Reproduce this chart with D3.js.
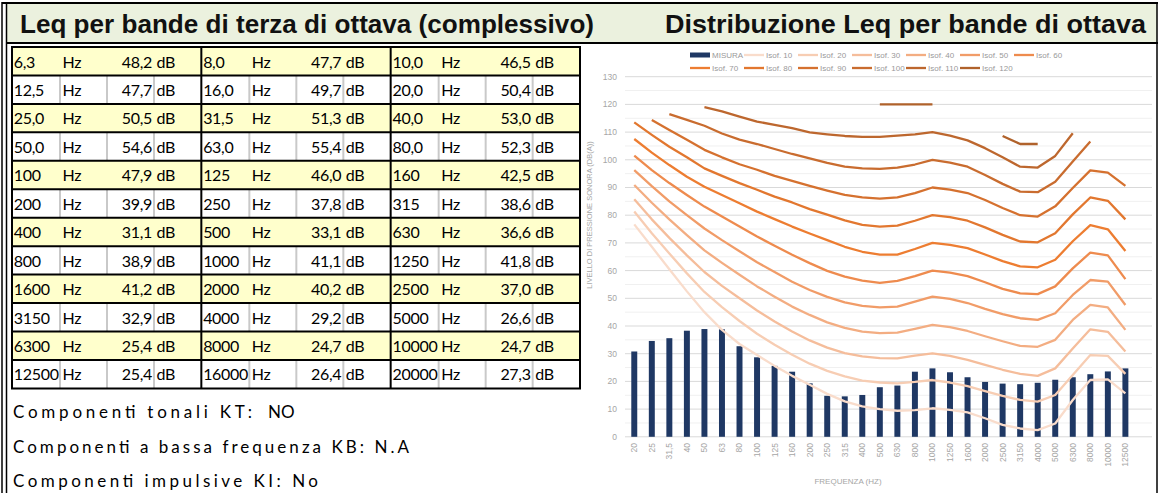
<!DOCTYPE html>
<html>
<head>
<meta charset="utf-8">
<script src="https://cdn.jsdelivr.net/npm/d3@7/dist/d3.min.js"></script>
<style>
  body { margin: 0; background: #fff; }
  svg { display: block; font-family: Arial, "Liberation Sans", sans-serif; }
</style>
</head>
<body>
<svg id="chart" width="1161" height="493"></svg>
<script>
// ---- table data (1/3 octave, overall Leq) ----
const tableFreq = ["6,3","8,0","10,0","12,5","16,0","20,0","25,0","31,5","40,0","50,0","63,0","80,0",
  "100","125","160","200","250","315","400","500","630","800","1000","1250",
  "1600","2000","2500","3150","4000","5000","6300","8000","10000","12500","16000","20000"]
const tableLeq = ["48,2","47,7","46,5","47,7","49,7","50,4","50,5","51,3","53,0","54,6","55,4","52,3",
  "47,9","46,0","42,5","39,9","37,8","38,6","31,1","33,1","36,6","38,9","41,1","41,8",
  "41,2","40,2","37,0","32,9","29,2","26,6","25,4","24,7","24,7","25,4","26,4","27,3"]
const notes = [
  ["Componenti tonali KT:", "NO"],
  ["Componenti a bassa frequenza KB: N.A", ""],
  ["Componenti impulsive KI: No", ""]
]

// ---- chart data ----
const bands = ["20","25","31,5","40","50","63","80","100","125","160","200","250","315","400","500",
  "630","800","1000","1250","1600","2000","2500","3150","4000","5000","6300","8000","10000","12500"]
const misura = [30.8,34.6,35.6,38.3,38.9,38.8,32.7,28.7,25.6,23.5,19.3,14.8,14.6,15.1,17.9,
  18.5,23.5,24.7,23.3,21.5,19.8,19.2,19.0,19.5,20.6,21.5,22.6,23.6,24.7]

const iso10 = [76.7,68.6,60.5,52.5,45.0,38.6,33.5,29.5,25.6,22.0,18.8,15.5,12.8,11.0,10.0,
  9.4,9.6,10.3,9.7,8.8,6.7,4.3,3.0,2.4,4.8,13.3,20.5,20.7,15.7]
const iso20 = [81.3,73.5,66.2,59.0,52.3,46.8,41.8,37.2,33.2,29.6,26.4,23.8,21.8,20.3,19.6,
  19.3,19.8,20.5,19.6,18.3,16.5,14.8,13.3,12.7,15.1,22.3,29.5,29.2,22.7]
const iso30 = [85.8,78.5,71.8,65.5,59.5,54.5,50.0,45.6,41.6,38.0,34.8,32.2,30.2,29.0,28.4,
  28.3,29.3,30.1,29.2,27.8,26.0,24.2,22.7,22.0,24.7,31.9,38.8,37.9,30.8]
const iso40 = [90.9,84.5,78.5,72.8,67.3,62.8,58.5,54.3,50.6,47.0,44.0,41.3,39.3,38.0,37.4,
  37.6,39.0,40.4,39.6,38.2,36.3,34.5,32.8,32.5,35.0,42.2,47.6,46.7,38.6]
const iso50 = [96.3,90.5,85.0,80.0,75.2,71.0,67.0,63.0,59.5,56.0,53.0,50.5,48.5,47.3,46.7,
  47.0,48.8,50.6,49.8,48.3,46.2,44.3,42.8,42.2,44.6,51.2,56.6,56.0,47.6]
const iso60 = [101.5,96.3,91.6,87.3,83.1,79.5,75.9,72.3,69.0,65.7,62.7,59.9,57.8,56.4,55.6,
  56.3,58.0,60.0,59.3,58.0,55.8,53.4,51.8,51.5,54.3,60.8,66.5,65.5,56.9]
const iso70 = [107.5,102.6,98.1,93.9,90.3,87.3,84.3,81.3,78.6,75.9,73.4,71.0,68.6,66.8,65.8,
  65.8,67.8,70.0,69.3,68.1,65.8,63.4,61.5,61.2,63.9,70.6,76.4,74.9,67.1]
const iso80 = [113.5,109.0,104.7,100.9,96.9,94.2,91.6,89.2,86.7,84.6,82.2,80.2,78.1,76.5,75.9,
  76.2,78.0,80.0,79.3,78.0,75.6,72.9,70.5,70.2,73.5,80.3,86.4,85.2,78.5]
const iso90 = [null,114.4,110.8,107.2,103.6,100.9,98.4,96.4,94.2,92.4,90.6,88.9,87.3,86.4,86.0,
  86.4,88.0,90.0,89.2,88.0,85.5,82.6,80.0,79.5,83.2,89.8,96.2,95.4,90.6]
const iso100 = [null,null,116.5,114.4,112.3,109.5,107.3,105.7,103.9,102.1,100.5,98.9,97.5,96.9,96.7,
  97.2,98.3,100.0,99.0,97.5,94.5,91.3,88.5,88.3,92.1,99.4,106.6,null,null]
const iso110 = [null,null,null,null,119.0,117.5,115.6,113.8,112.6,111.4,109.9,109.2,108.6,108.3,108.3,
  108.7,109.2,110.0,108.7,107.0,104.2,100.9,97.5,97.2,101.4,109.6,null,null,null]
const iso120 = [null,null,null,null,null,null,null,null,null,null,null,null,null,null,120.0,
  120.0,120.0,120.0,null,null,null,108.6,105.7,105.7,null,null,null,null,null]

const isoNames = ["Isof. 10","Isof. 20","Isof. 30","Isof. 40","Isof. 50","Isof. 60",
  "Isof. 70","Isof. 80","Isof. 90","Isof. 100","Isof. 110","Isof. 120"]
const isoValues = [iso10, iso20, iso30, iso40, iso50, iso60, iso70, iso80, iso90, iso100, iso110, iso120]
const isoColors = ["#f9dccb","#f7cdb3","#f5bd9b","#f3ad82","#f19c68","#ee8b4e",
  "#ed7d31","#e2772f","#d5712f","#c96c2f","#bd672e","#b0622b"]
const yTicks = d3.range(0, 131, 10)

const svg = d3.select("#chart")
const tableFont = "Lato, sans-serif"

// ---------- frame + header ----------
svg.append("rect").attr("x", 7).attr("y", 4).attr("width", 1150).attr("height", 39).attr("fill", "#ebf1de")
svg.append("line").attr("x1", 2).attr("x2", 1158).attr("y1", 3).attr("y2", 3).attr("stroke", "#000").attr("stroke-width", 2)
svg.append("line").attr("x1", 6).attr("x2", 1158).attr("y1", 43).attr("y2", 43).attr("stroke", "#000").attr("stroke-width", 2)
svg.append("line").attr("x1", 2).attr("x2", 2).attr("y1", 2).attr("y2", 493).attr("stroke", "#000").attr("stroke-width", 1.5)
svg.append("line").attr("x1", 6.5).attr("x2", 6.5).attr("y1", 3).attr("y2", 493).attr("stroke", "#000").attr("stroke-width", 1.5)
svg.append("line").attr("x1", 1157).attr("x2", 1157).attr("y1", 2).attr("y2", 493).attr("stroke", "#000").attr("stroke-width", 1.5)

svg.append("text").attr("x", 20).attr("y", 33)
  .attr("font-size", 25).attr("font-weight", "bold").attr("fill", "#111")
  .attr("textLength", 574).attr("lengthAdjust", "spacingAndGlyphs")
  .text("Leq per bande di terza di ottava (complessivo)")
svg.append("text").attr("x", 665).attr("y", 33)
  .attr("font-size", 25).attr("font-weight", "bold").attr("fill", "#111")
  .attr("textLength", 481).attr("lengthAdjust", "spacingAndGlyphs")
  .text("Distribuzione Leq per bande di ottava")

// ---------- table ----------
const rows = d3.range(12), groups = d3.range(3)
const ty = d3.scaleBand().domain(rows).range([47, 388.4])
const tx = d3.scaleBand().domain(groups).range([12, 580])
const cellOff = [0, 48, 95, 142]   // freq | Hz | value | dB

const tbl = svg.append("g")
tbl.selectAll("rect.row").data(rows).join("rect")
  .attr("x", 12).attr("y", r => ty(r)).attr("width", 568).attr("height", ty.bandwidth())
  .attr("fill", r => r % 2 === 0 ? "#ffffcc" : "#fff")

// light separators inside white rows
rows.filter(r => r % 2 === 1).forEach(r => {
  groups.forEach(g => {
    cellOff.slice(1).forEach(o => {
      tbl.append("line").attr("x1", tx(g) + o).attr("x2", tx(g) + o)
        .attr("y1", ty(r)).attr("y2", ty(r) + ty.bandwidth())
        .attr("stroke", "#c9c9c9").attr("stroke-width", 2)
    })
  })
})
// black row lines and group lines
tbl.selectAll("line.h").data(d3.range(13)).join("line")
  .attr("x1", 11).attr("x2", 581)
  .attr("y1", i => 47 + i * ty.step()).attr("y2", i => 47 + i * ty.step())
  .attr("stroke", "#000").attr("stroke-width", 2)
tbl.selectAll("line.v").data(d3.range(4)).join("line")
  .attr("x1", i => 12 + i * tx.step()).attr("x2", i => 12 + i * tx.step())
  .attr("y1", 47).attr("y2", 388.4)
  .attr("stroke", "#000").attr("stroke-width", 2)

const cells = []
rows.forEach(r => groups.forEach(g => cells.push({ r, g, i: r * 3 + g })))
const cg = tbl.selectAll("g.cell").data(cells).join("g")
  .attr("transform", d => `translate(${tx(d.g)},${ty(d.r) + 20.5})`)
  .attr("font-family", tableFont).attr("font-size", 16).attr("letter-spacing", -0.3).attr("fill", "#000")
cg.append("text").attr("x", 1.8).text(d => tableFreq[d.i])
cg.append("text").attr("x", 50.5).text("Hz")
cg.append("text").attr("x", 140).attr("text-anchor", "end").text(d => tableLeq[d.i])
cg.append("text").attr("x", 144.5).text("dB")

// notes under the table
const noteY = [418, 453, 487]
const noteW = [239, 396, 305]
notes.forEach((n, i) => {
  svg.append("text").attr("x", 13).attr("y", noteY[i])
    .attr("font-family", tableFont).attr("font-size", 17)
    .attr("textLength", noteW[i]).attr("lengthAdjust", "spacing")
    .text(n[0])
  if (n[1]) svg.append("text").attr("x", 268).attr("y", noteY[i])
    .attr("font-family", tableFont).attr("font-size", 17).text(n[1])
})

// ---------- chart ----------
const x = d3.scaleBand().domain([...bands, "pad"]).range([625.5, 1151.7])
  .paddingInner(0.66).paddingOuter(0.33)
const y = d3.scaleLinear().domain([0, 130]).range([436.8, 76.7])
const cx = b => x(b) + x.bandwidth() / 2

const ch = svg.append("g")
// minor + major gridlines
ch.selectAll("line.minor").data(d3.range(5, 130, 10)).join("line")
  .attr("x1", 625).attr("x2", 1152).attr("y1", d => y(d)).attr("y2", d => y(d))
  .attr("stroke", "#f0f0f0").attr("stroke-width", 1)
ch.selectAll("line.major").data(yTicks).join("line")
  .attr("x1", 625).attr("x2", 1152).attr("y1", d => y(d)).attr("y2", d => y(d))
  .attr("stroke", "#d9d9d9").attr("stroke-width", 1)

ch.selectAll("text.ytick").data(yTicks).join("text")
  .attr("x", 617).attr("y", d => y(d)).attr("dy", "0.35em").attr("text-anchor", "end")
  .attr("font-size", 8.5).attr("fill", "#a6a6a6").text(d => d)

ch.selectAll("text.xtick").data(bands).join("text")
  .attr("transform", d => `translate(${cx(d)},443) rotate(-90)`)
  .attr("dy", "0.35em").attr("text-anchor", "end")
  .attr("font-size", 8.5).attr("fill", "#a6a6a6").text(d => d)

ch.append("text").attr("transform", "translate(589,215) rotate(-90)")
  .attr("text-anchor", "middle").attr("dy", "0.35em")
  .attr("font-size", 7.5).attr("fill", "#a6a6a6").text("LIVELLO DI PRESSIONE SONORA (DB(A))")
ch.append("text").attr("x", 848).attr("y", 484).attr("text-anchor", "middle")
  .attr("font-size", 8).attr("fill", "#a6a6a6").text("FREQUENZA (HZ)")

// bars
ch.selectAll("rect.bar").data(misura).join("rect")
  .attr("x", (d, i) => x(bands[i])).attr("width", x.bandwidth())
  .attr("y", d => y(d)).attr("height", d => y(0) - y(d))
  .attr("fill", "#1f3864")

// isophone lines
const line = d3.line()
  .defined(d => d.v != null)
  .x(d => cx(d.b)).y(d => y(d.v))
isoValues.forEach((vals, k) => {
  ch.append("path")
    .datum(vals.map((v, i) => ({ b: bands[i], v })))
    .attr("fill", "none").attr("stroke", isoColors[k]).attr("stroke-width", 2.3)
    .attr("stroke-linejoin", "round").attr("d", line)
})

// legend (grid of 7 columns, two rows)
const legendItems = [{ name: "MISURA", color: "#1f3864", bar: true }]
  .concat(isoNames.map((n, k) => ({ name: n, color: isoColors[k], bar: false })))
const lg = ch.selectAll("g.leg").data(legendItems).join("g")
  .attr("transform", (d, i) => `translate(${690 + (i < 7 ? i : i - 7) * 54},${i < 7 ? 55 : 68})`)
lg.append("line").attr("x1", 0).attr("x2", 20)
  .attr("stroke", d => d.color).attr("stroke-width", d => d.bar ? 5 : 2.3)
lg.append("text").attr("x", 22).attr("dy", "0.35em")
  .attr("font-size", 8).attr("fill", "#999").text(d => d.name)
</script>
</body>
</html>
